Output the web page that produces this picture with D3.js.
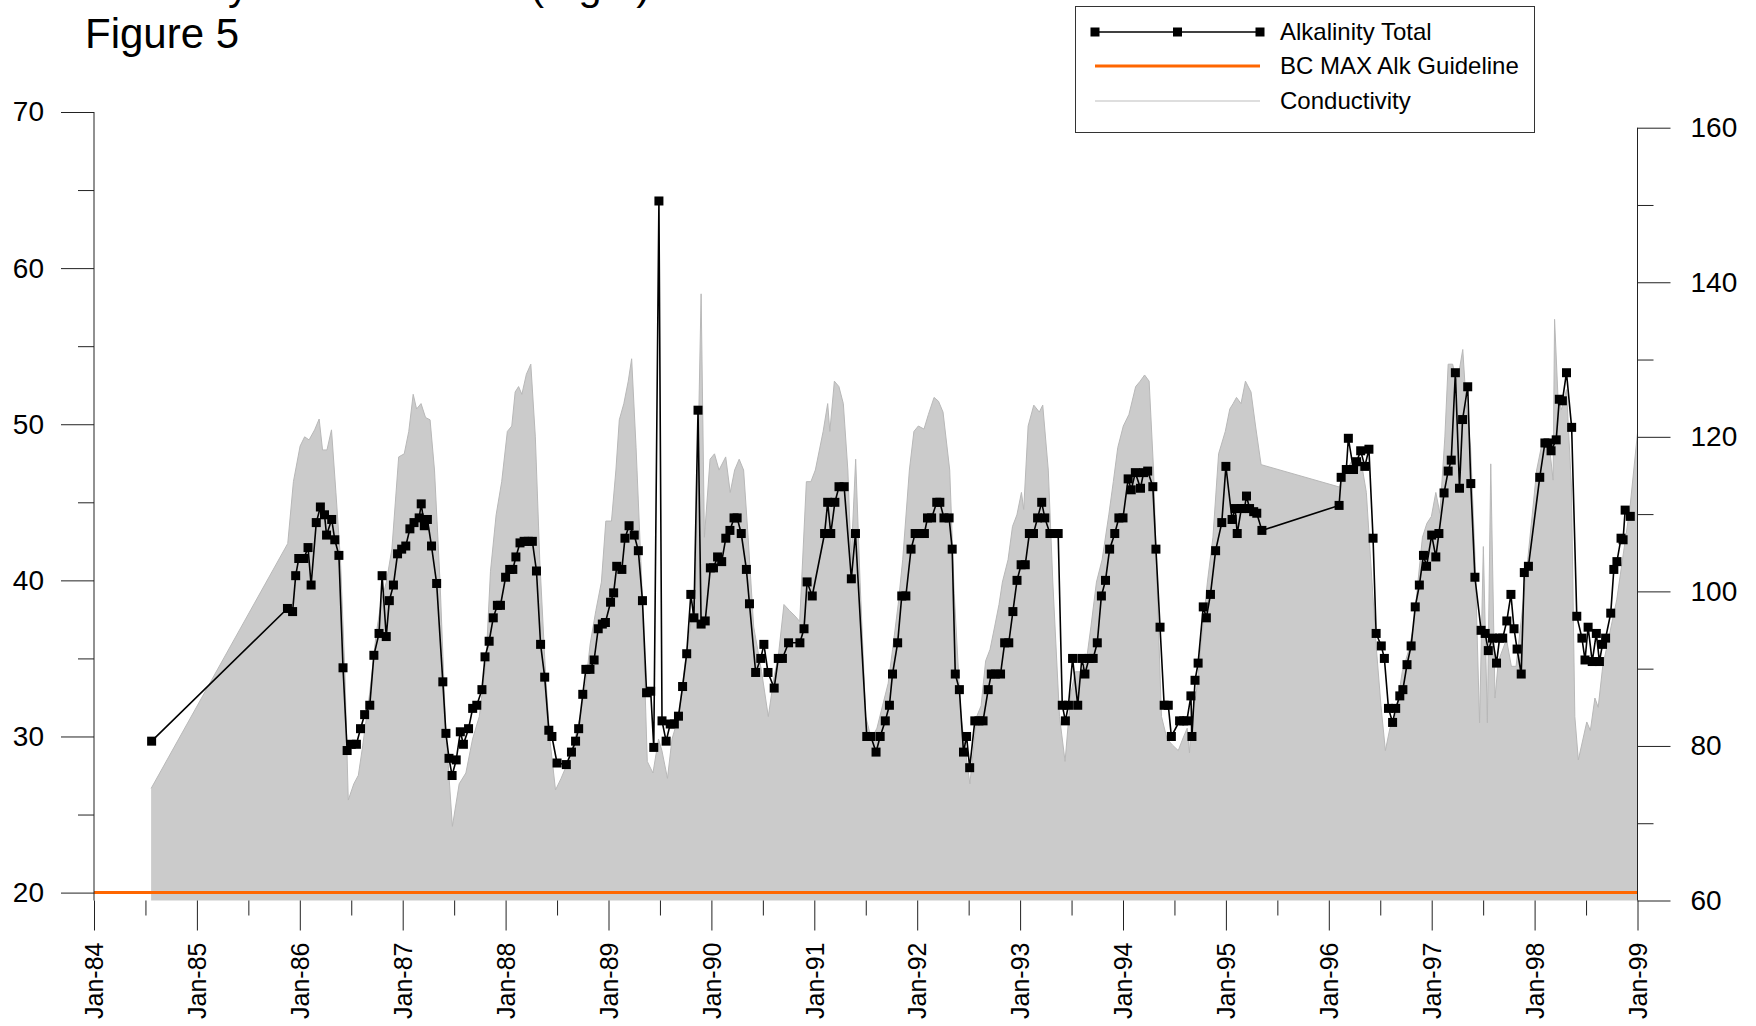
<!DOCTYPE html>
<html><head><meta charset="utf-8">
<script src="https://cdn.jsdelivr.net/npm/d3@7"></script>
<style>body{margin:0;background:#fff}svg{display:block}text{font-family:"Liberation Sans",Arial,sans-serif;fill:#000}</style>
</head><body><svg id="c" width="1756" height="1026"></svg>
<script>
const alkYear=[1984.56,1985.88,1985.93,1985.96,1985.99,1986.04,1986.08,1986.11,1986.16,1986.20,1986.24,1986.26,1986.31,1986.34,1986.38,1986.42,1986.46,1986.50,1986.55,1986.59,1986.63,1986.68,1986.72,1986.77,1986.80,1986.84,1986.87,1986.91,1986.95,1986.99,1987.03,1987.07,1987.11,1987.16,1987.18,1987.21,1987.24,1987.28,1987.33,1987.39,1987.42,1987.45,1987.48,1987.52,1987.56,1987.59,1987.64,1987.68,1987.72,1987.77,1987.80,1987.84,1987.88,1987.92,1987.95,1988.00,1988.04,1988.07,1988.10,1988.14,1988.18,1988.22,1988.26,1988.30,1988.34,1988.38,1988.42,1988.45,1988.50,1988.59,1988.64,1988.68,1988.71,1988.75,1988.78,1988.82,1988.86,1988.90,1988.94,1988.97,1989.02,1989.05,1989.08,1989.13,1989.16,1989.20,1989.25,1989.29,1989.33,1989.37,1989.41,1989.44,1989.49,1989.52,1989.56,1989.60,1989.64,1989.68,1989.72,1989.76,1989.80,1989.83,1989.87,1989.90,1989.94,1989.99,1990.02,1990.06,1990.10,1990.14,1990.18,1990.22,1990.25,1990.29,1990.34,1990.37,1990.43,1990.48,1990.51,1990.55,1990.61,1990.65,1990.69,1990.75,1990.86,1990.90,1990.93,1990.98,1991.10,1991.13,1991.16,1991.20,1991.24,1991.29,1991.36,1991.40,1991.51,1991.55,1991.60,1991.64,1991.69,1991.73,1991.76,1991.81,1991.85,1991.89,1991.94,1991.98,1992.02,1992.07,1992.10,1992.14,1992.19,1992.22,1992.26,1992.31,1992.34,1992.37,1992.41,1992.45,1992.48,1992.51,1992.56,1992.60,1992.64,1992.69,1992.72,1992.76,1992.81,1992.85,1992.89,1992.93,1992.97,1993.01,1993.05,1993.09,1993.13,1993.17,1993.21,1993.24,1993.29,1993.33,1993.37,1993.41,1993.44,1993.47,1993.51,1993.56,1993.60,1993.63,1993.67,1993.71,1993.75,1993.79,1993.83,1993.87,1993.92,1993.96,1994.00,1994.05,1994.08,1994.12,1994.17,1994.20,1994.24,1994.29,1994.32,1994.36,1994.40,1994.44,1994.47,1994.55,1994.59,1994.62,1994.66,1994.67,1994.70,1994.73,1994.78,1994.81,1994.85,1994.90,1994.96,1995.00,1995.06,1995.09,1995.11,1995.15,1995.18,1995.20,1995.23,1995.27,1995.30,1995.35,1996.10,1996.12,1996.17,1996.19,1996.24,1996.27,1996.31,1996.35,1996.39,1996.43,1996.46,1996.51,1996.54,1996.58,1996.62,1996.65,1996.69,1996.72,1996.76,1996.80,1996.84,1996.88,1996.92,1996.95,1997.00,1997.04,1997.07,1997.12,1997.16,1997.19,1997.23,1997.27,1997.30,1997.35,1997.38,1997.42,1997.48,1997.52,1997.55,1997.59,1997.63,1997.66,1997.69,1997.73,1997.77,1997.80,1997.83,1997.87,1997.90,1997.94,1998.05,1998.10,1998.13,1998.16,1998.21,1998.24,1998.27,1998.31,1998.36,1998.41,1998.46,1998.49,1998.52,1998.56,1998.60,1998.63,1998.66,1998.69,1998.74,1998.77,1998.80,1998.84,1998.86,1998.88,1998.93];
const alkVal=[29.7,38.2,38.0,40.3,41.4,41.4,42.1,39.7,43.7,44.7,44.2,42.9,43.9,42.6,41.6,34.4,29.1,29.5,29.5,30.5,31.4,32.0,35.2,36.6,40.3,36.4,38.7,39.7,41.7,42.0,42.2,43.3,43.7,44.0,44.9,43.5,43.9,42.2,39.8,33.5,30.2,28.6,27.5,28.5,30.3,29.5,30.5,31.8,32.0,33.0,35.1,36.1,37.6,38.4,38.4,40.2,40.7,40.7,41.5,42.4,42.5,42.5,42.5,40.6,35.9,33.8,30.4,30.0,28.3,28.2,29.0,29.7,30.5,32.7,34.3,34.3,34.9,36.9,37.2,37.3,38.6,39.2,40.9,40.7,42.7,43.5,42.9,41.9,38.7,32.8,32.9,29.3,64.3,31.0,29.7,30.8,30.8,31.3,33.2,35.3,39.1,37.6,50.9,37.2,37.4,40.8,40.8,41.5,41.2,42.7,43.2,44.0,44.0,43.0,40.7,38.5,34.1,35.0,35.9,34.1,33.1,35.0,35.0,36.0,36.0,36.9,39.9,39.0,43.0,45.0,43.0,45.0,46.0,46.0,40.1,43.0,30.0,30.0,29.0,30.0,31.0,32.0,34.0,36.0,39.0,39.0,42.0,43.0,43.0,43.0,44.0,44.0,45.0,45.0,44.0,44.0,42.0,34.0,33.0,29.0,30.0,28.0,31.0,31.0,31.0,33.0,34.0,34.0,34.0,36.0,36.0,38.0,40.0,41.0,41.0,43.0,43.0,44.0,45.0,44.0,43.0,43.0,43.0,32.0,31.0,32.0,35.0,32.0,35.0,34.0,35.0,35.0,36.0,39.0,40.0,42.0,43.0,44.0,44.0,46.5,45.8,46.9,45.9,46.9,47.0,46.0,42.0,37.0,32.0,32.0,30.0,31.0,31.0,31.0,32.6,30.0,33.6,34.7,38.3,37.6,39.1,41.9,43.7,47.3,43.9,44.6,43.0,44.6,44.6,45.4,44.6,44.4,44.3,43.2,44.8,46.6,47.1,49.1,47.1,47.6,48.3,47.3,48.4,42.7,36.6,35.8,35.0,31.8,30.9,31.8,32.6,33.0,34.6,35.8,38.3,39.7,41.6,40.9,42.9,41.5,43.0,45.6,47.0,47.7,53.3,45.9,50.3,52.4,46.2,40.2,36.8,36.6,35.5,36.3,34.7,36.3,36.3,37.4,39.1,36.9,35.6,34.0,40.5,40.9,46.6,48.8,48.8,48.3,49.0,51.6,51.5,53.3,49.8,37.7,36.3,34.9,37.0,34.8,36.6,34.8,35.9,36.3,37.9,40.7,41.2,42.7,42.6,44.5,44.1];
const condYear=[1984.555,1985.883,1985.938,1986.003,1986.047,1986.090,1986.144,1986.188,1986.221,1986.264,1986.308,1986.351,1986.395,1986.438,1986.471,1986.525,1986.569,1986.612,1986.678,1986.743,1986.787,1986.841,1986.895,1986.961,1987.015,1987.059,1987.102,1987.135,1987.178,1987.222,1987.266,1987.309,1987.363,1987.418,1987.483,1987.549,1987.614,1987.679,1987.744,1987.810,1987.853,1987.908,1987.962,1988.017,1988.060,1988.093,1988.126,1988.158,1988.202,1988.245,1988.289,1988.332,1988.387,1988.430,1988.485,1988.539,1988.593,1988.659,1988.724,1988.779,1988.822,1988.877,1988.931,1988.974,1989.029,1989.072,1989.105,1989.149,1989.192,1989.225,1989.268,1989.323,1989.377,1989.432,1989.486,1989.519,1989.573,1989.617,1989.682,1989.747,1989.802,1989.845,1989.900,1989.932,1989.987,1990.030,1990.074,1990.139,1990.183,1990.226,1990.270,1990.313,1990.357,1990.411,1990.488,1990.553,1990.607,1990.651,1990.705,1990.760,1990.814,1990.858,1990.923,1990.967,1991.010,1991.086,1991.130,1991.151,1991.195,1991.239,1991.282,1991.326,1991.358,1991.402,1991.445,1991.500,1991.554,1991.609,1991.663,1991.718,1991.761,1991.815,1991.859,1991.924,1991.968,1992.011,1992.066,1992.109,1992.164,1992.207,1992.251,1992.316,1992.360,1992.425,1992.512,1992.578,1992.621,1992.665,1992.708,1992.752,1992.795,1992.828,1992.883,1992.926,1992.969,1993.013,1993.035,1993.078,1993.133,1993.187,1993.220,1993.274,1993.318,1993.383,1993.437,1993.492,1993.536,1993.590,1993.644,1993.688,1993.742,1993.797,1993.862,1993.906,1993.949,1994.003,1994.058,1994.123,1994.167,1994.210,1994.254,1994.297,1994.330,1994.374,1994.428,1994.482,1994.537,1994.580,1994.624,1994.646,1994.668,1994.711,1994.776,1994.820,1994.874,1994.929,1994.994,1995.038,1995.070,1995.103,1995.147,1995.190,1995.244,1995.288,1995.342,1996.104,1996.148,1996.202,1996.235,1996.278,1996.311,1996.365,1996.420,1996.463,1996.507,1996.550,1996.594,1996.648,1996.714,1996.779,1996.823,1996.866,1996.910,1996.953,1996.997,1997.040,1997.080,1997.128,1997.160,1997.204,1997.237,1997.269,1997.302,1997.335,1997.378,1997.422,1997.465,1997.502,1997.541,1997.574,1997.615,1997.648,1997.727,1997.774,1997.820,1997.870,1997.933,1997.977,1998.020,1998.064,1998.106,1998.150,1998.180,1998.194,1998.227,1998.260,1998.310,1998.358,1998.391,1998.425,1998.507,1998.542,1998.586,1998.618,1998.662,1998.798,1998.928,1999.000];
const condVal=[74.5,106.2,114.2,118.8,120.0,119.6,120.9,122.3,118.3,118.3,120.9,112.8,104.1,89.6,73.0,75.1,76.2,80.1,86.7,94.6,98.3,101.2,105.5,117.4,117.8,120.7,125.5,123.6,124.3,122.5,122.2,115.7,101.2,82.3,69.6,75.1,76.5,80.9,83.8,91.0,102.6,109.9,114.2,120.7,121.4,125.8,126.5,125.5,128.1,129.4,120.0,104.1,89.6,80.9,74.3,75.8,77.5,80.1,83.8,88.1,93.2,97.5,101.2,109.1,109.1,115.7,122.2,124.3,127.2,130.1,118.6,101.2,78.0,76.5,80.9,79.4,75.8,80.9,83.8,91.0,96.1,100.4,138.5,107.0,117.1,117.8,115.7,117.4,112.8,115.7,117.1,115.7,107.0,95.4,89.6,83.8,88.8,91.7,98.3,97.5,96.8,96.1,114.2,114.2,115.7,120.7,124.3,120.7,127.2,126.5,124.3,115.7,104.1,117.1,101.2,83.8,80.9,82.3,85.2,88.1,92.5,98.3,104.1,115.7,120.7,121.4,121.0,122.9,125.1,124.6,123.2,115.7,99.7,83.8,75.1,83.8,85.2,91.0,92.5,95.4,98.3,101.2,104.1,108.4,109.9,112.8,110.6,121.4,124.1,123.2,124.1,115.7,101.2,83.8,78.0,86.7,89.6,89.6,91.0,95.4,101.2,104.1,109.9,114.2,118.6,121.4,122.9,126.5,127.2,128.0,127.2,115.7,101.2,83.8,80.9,80.1,79.4,80.9,82.3,79.1,83.8,86.7,95.4,101.2,107.0,117.8,120.7,123.6,124.3,125.1,124.3,127.2,125.8,121.4,116.4,113.5,115.7,116.4,117.1,115.7,117.1,112.8,101.2,92.5,85.2,79.4,82.3,83.8,89.6,92.5,95.4,101.2,107.0,108.8,109.7,112.8,110.1,120.0,129.4,129.4,127.2,128.7,131.3,124.3,118.6,104.1,83.0,105.8,83.0,116.5,86.2,91.0,93.8,90.3,90.3,96.3,104.1,109.9,115.7,118.6,119.2,118.0,114.4,135.2,125.2,123.5,126.1,113.5,83.8,78.2,83.1,82.0,86.2,85.0,90.3,98.9,111.0,120.5];
const guidelineValue=20;
const xTickYears=[1984,1985,1986,1987,1988,1989,1990,1991,1992,1993,1994,1995,1996,1997,1998,1999];
const xTickLabels=["Jan-84","Jan-85","Jan-86","Jan-87","Jan-88","Jan-89","Jan-90","Jan-91","Jan-92","Jan-93","Jan-94","Jan-95","Jan-96","Jan-97","Jan-98","Jan-99"];
const xMinorYears=[1984.5,1985.5,1986.5,1987.5,1988.5,1989.5,1990.5,1991.5,1992.5,1993.5,1994.5,1995.5,1996.5,1997.5,1998.5];
const leftTicks=[20,30,40,50,60,70];
const leftMinor=[25,35,45,55,65];
const rightTicks=[60,80,100,120,140,160];
const rightMinor=[70,90,110,130,150];
const legendLabels=["Alkalinity Total","BC MAX Alk Guideline","Conductivity"];
const titleText="Alkalinity Concentration (mg/L)";
const figureText="Figure 5";

const svg=d3.select("#c");
const x=d3.scaleLinear().domain([1984,1999]).range([94,1637.5]);
const yL=d3.scaleLinear().domain([20,70]).range([892.6,112]);
const yR=d3.scaleLinear().domain([60,160]).range([900.5,127.7]);
const axisBottomY=yR(60);

const cond=condYear.map((t,i)=>({t,v:condVal[i]}));
const alk=alkYear.map((t,i)=>({t,v:alkVal[i]}));

// conductivity area
svg.append("path").datum(cond)
  .attr("d",d3.area().x(d=>x(d.t)).y0(axisBottomY).y1(d=>yR(d.v)))
  .attr("fill","#cbcbcb");
svg.append("path").datum(cond)
  .attr("d",d3.line().x(d=>x(d.t)).y(d=>yR(d.v)))
  .attr("fill","none").attr("stroke","#b8b8b8").attr("stroke-width",1);

// guideline
svg.append("line").attr("x1",x(1984)).attr("x2",x(1999))
  .attr("y1",yL(guidelineValue)).attr("y2",yL(guidelineValue))
  .attr("stroke","#ff6600").attr("stroke-width",3);

// alkalinity
svg.append("path").datum(alk)
  .attr("d",d3.line().x(d=>x(d.t)).y(d=>yL(d.v)))
  .attr("fill","none").attr("stroke","#000").attr("stroke-width",1.6);
svg.append("g").selectAll("rect").data(alk).join("rect")
  .attr("x",d=>x(d.t)-4.5).attr("y",d=>yL(d.v)-4.5)
  .attr("width",9).attr("height",9).attr("fill","#000");

function styleAxis(g){g.select(".domain").remove();g.selectAll("line").attr("stroke","#222");g.selectAll("text").attr("font-family",'"Liberation Sans",Arial,sans-serif');}

// left axis
svg.append("g").attr("transform",`translate(${x(1984)},0)`)
  .call(d3.axisLeft(yL).tickValues(leftTicks).tickSize(33).tickPadding(17).tickFormat(d3.format("d")))
  .call(styleAxis).selectAll("text").attr("font-size",28);
svg.append("g").attr("transform",`translate(${x(1984)},0)`)
  .call(d3.axisLeft(yL).tickValues(leftMinor).tickSize(16).tickFormat(""))
  .call(styleAxis);
svg.append("line").attr("x1",x(1984)).attr("x2",x(1984)).attr("y1",yL(70)).attr("y2",axisBottomY).attr("stroke","#222");

// right axis
svg.append("g").attr("transform",`translate(${x(1999)},0)`)
  .call(d3.axisRight(yR).tickValues(rightTicks).tickSize(33).tickPadding(20).tickFormat(d3.format("d")))
  .call(styleAxis).selectAll("text").attr("font-size",28);
svg.append("g").attr("transform",`translate(${x(1999)},0)`)
  .call(d3.axisRight(yR).tickValues(rightMinor).tickSize(16).tickFormat(""))
  .call(styleAxis);
svg.append("line").attr("x1",x(1999)).attr("x2",x(1999)).attr("y1",yR(160)).attr("y2",axisBottomY).attr("stroke","#222");

// x axis
const xg=svg.append("g").attr("transform",`translate(0,${axisBottomY})`)
  .call(d3.axisBottom(x).tickValues(xTickYears).tickSize(30).tickFormat((d,i)=>xTickLabels[i]))
  .call(styleAxis);
xg.selectAll("text").attr("font-size",25).attr("text-anchor","end")
  .attr("transform","rotate(-90)").attr("x",-42).attr("y",0).attr("dy","0.35em");
svg.append("g").attr("transform",`translate(0,${axisBottomY})`)
  .call(d3.axisBottom(x).tickValues(xMinorYears).tickSize(15).tickFormat(""))
  .call(styleAxis);

// titles (top line is cropped by the page edge, as in the reference)
svg.append("text").attr("x",85).attr("y",0).attr("font-size",41.5).text(titleText);
svg.append("text").attr("x",85).attr("y",48).attr("font-size",42).text(figureText);

// legend
const lg=svg.append("g");
lg.append("rect").attr("x",1075.5).attr("y",6.5).attr("width",459).attr("height",126)
  .attr("fill","#fff").attr("stroke","#333").attr("stroke-width",1);
const rows=[32,66,101];
lg.append("line").attr("x1",1095).attr("x2",1260).attr("y1",rows[0]).attr("y2",rows[0]).attr("stroke","#000").attr("stroke-width",1.6);
[1095,1177.5,1260].forEach(px=>lg.append("rect").attr("x",px-4.5).attr("y",rows[0]-4.5).attr("width",9).attr("height",9).attr("fill","#000"));
lg.append("line").attr("x1",1095).attr("x2",1260).attr("y1",rows[1]).attr("y2",rows[1]).attr("stroke","#ff6600").attr("stroke-width",3);
lg.append("line").attr("x1",1095).attr("x2",1260).attr("y1",rows[2]).attr("y2",rows[2]).attr("stroke","#bdbdbd").attr("stroke-width",1);
legendLabels.forEach((t,i)=>lg.append("text").attr("x",1280).attr("y",rows[i]).attr("dy","0.35em").attr("font-size",24).text(t));
</script></body></html>
